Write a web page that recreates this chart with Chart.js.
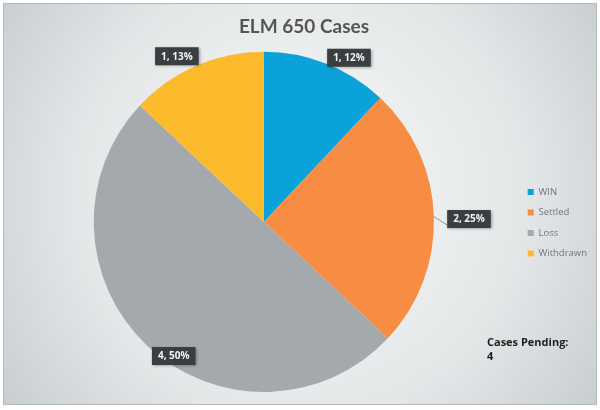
<!DOCTYPE html>
<html>
<head>
<meta charset="utf-8">
<title>ELM 650 Cases</title>
<script src="https://cdn.jsdelivr.net/npm/chart.js@4.4.1/dist/chart.umd.min.js"></script>
<style>
    html, body { margin: 0; padding: 0; background: #ffffff; }
    #wrap { width: 600px; height: 410px; position: relative; }
</style>
</head>
<body>
<div id="wrap"><canvas id="casesChart" width="600" height="410"></canvas></div>
<script>
// Chart data
const categories = ['WIN', 'Settled', 'Loss', 'Withdrawn'];
const caseCounts = [1, 2, 4, 1];
const sharePct = [12, 25, 50, 13];
const pendingCases = 4;

const colors = {
    win: '#0aa2d9',
    settled: '#f78c43',
    loss: '#a3a9ad',
    withdrawn: '#fbbb2c',
    text: '#555555',
    labelBox: '#3a3e41'
};

// where each data label sits: radius factor + angle nudge (deg)
const labelPlacement = [
    { r: 1.087, da: 5.8 },
    { r: 1.206, da: 1.0 },
    { r: 0.95, da: -9.3 },
    { r: 1.10, da: -4.3 }
];

// soft grey radial background like the original
const backgroundPlugin = {
    id: 'bgFill',
    beforeDraw(chart) {
        const { ctx, width, height } = chart;
        ctx.save();
        ctx.fillStyle = '#ffffff';
        ctx.fillRect(0, 0, width, height);
        const g = ctx.createRadialGradient(300, 190, 20, 300, 200, 390);
        g.addColorStop(0, '#f6f7f7');
        g.addColorStop(0.55, '#e4e7e8');
        g.addColorStop(1, '#c2c8cb');
        ctx.fillStyle = g;
        ctx.fillRect(3, 3, width - 6, height - 8);
        ctx.strokeStyle = '#b4babd';
        ctx.lineWidth = 1;
        ctx.strokeRect(3.5, 3.5, width - 7, height - 9);
        ctx.restore();
    }
};

// "count, pct%" boxes with leader lines
const dataLabelPlugin = {
    id: 'dataLabels',
    afterDatasetsDraw(chart) {
        const ctx = chart.ctx;
        const meta = chart.getDatasetMeta(0);
        ctx.save();
        ctx.font = 'bold 10px "Open Sans", sans-serif';
        ctx.textAlign = 'center';
        ctx.textBaseline = 'middle';
        meta.data.forEach((arc, i) => {
            const p = arc.getProps(['x', 'y', 'startAngle', 'endAngle', 'outerRadius'], true);
            const place = labelPlacement[i];
            const mid = (p.startAngle + p.endAngle) / 2;
            const a = mid + place.da * Math.PI / 180;
            const lx = p.x + Math.cos(a) * p.outerRadius * place.r;
            const ly = p.y + Math.sin(a) * p.outerRadius * place.r;
            const text = caseCounts[i] + ', ' + sharePct[i] + '%';
            const w = ctx.measureText(text).width + 12;
            const h = 18;

            if (place.r > 1.15) {
                const ex = p.x + Math.cos(mid) * p.outerRadius;
                const ey = p.y + Math.sin(mid) * p.outerRadius;
                ctx.strokeStyle = '#8c9296';
                ctx.lineWidth = 1;
                ctx.beginPath();
                ctx.moveTo(ex, ey);
                ctx.lineTo(lx - w / 2, ly + h / 2 - 3);
                ctx.stroke();
            }

            ctx.shadowColor = 'rgba(0,0,0,0.35)';
            ctx.shadowBlur = 3;
            ctx.shadowOffsetX = 1;
            ctx.shadowOffsetY = 1;
            ctx.fillStyle = colors.labelBox;
            ctx.fillRect(lx - w / 2, ly - h / 2, w, h);
            ctx.shadowColor = 'transparent';
            ctx.fillStyle = '#f2f2f2';
            ctx.fillText(text, lx, ly + 0.5);
        });
        ctx.restore();
    }
};

// "Cases Pending" note in lower right
const pendingPlugin = {
    id: 'pendingNote',
    afterDraw(chart) {
        const ctx = chart.ctx;
        ctx.save();
        ctx.fillStyle = '#1e1e1e';
        ctx.font = 'bold 11px "Open Sans", sans-serif';
        ctx.textAlign = 'left';
        ctx.textBaseline = 'alphabetic';
        ctx.fillText('Cases Pending:', 487, 346);
        ctx.fillText(String(pendingCases), 487, 360);
        ctx.restore();
    }
};

const chart = new Chart(document.getElementById('casesChart'), {
    type: 'pie',
    data: {
        labels: categories,
        datasets: [{
            data: sharePct,
            backgroundColor: [colors.win, colors.settled, colors.loss, colors.withdrawn],
            borderWidth: 0
        }]
    },
    options: {
        responsive: false,
        animation: false,
        layout: {
            padding: { top: 0, bottom: 18, left: 11, right: 3 }
        },
        plugins: {
            title: {
                display: true,
                text: 'ELM 650 Cases',
                color: colors.text,
                font: { family: 'Lato', size: 19, weight: 'bold' },
                padding: { top: 15, bottom: 14 }
            },
            legend: {
                position: 'right',
                title: {
                    display: true,
                    text: ' ',
                    font: { size: 8 },
                    padding: 22
                },
                labels: {
                    color: '#707578',
                    font: { family: '"Open Sans"', size: 9.5 },
                    boxWidth: 6,
                    boxHeight: 6,
                    padding: 11
                }
            },
            tooltip: { enabled: false }
        }
    },
    plugins: [backgroundPlugin, dataLabelPlugin, pendingPlugin]
});
</script>
</body>
</html>
